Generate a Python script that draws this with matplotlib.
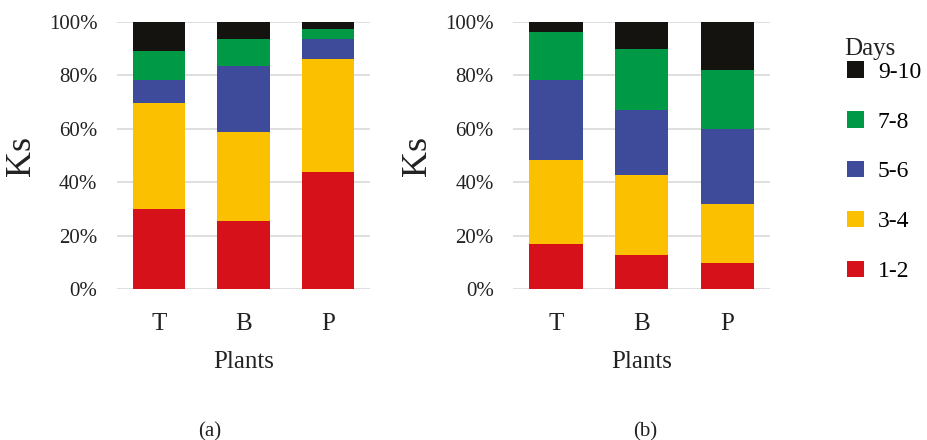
import numpy as np
import matplotlib
matplotlib.use("Agg")
import matplotlib.pyplot as plt
from matplotlib.ticker import PercentFormatter

plt.rcParams['font.family'] = ['Liberation Serif', 'DejaVu Serif']

# data (shares, %)
plants = ['T', 'B', 'P']
days = ['1-2', '3-4', '5-6', '7-8', '9-10']
colors = ['#D7111A', '#FBC000', '#3E4A9A', '#009A46', '#15130F']

# panel (a)
a_12 = [30.1, 25.4, 43.8]
a_34 = [39.7, 33.4, 42.5]
a_56 = [8.5, 24.9, 7.5]
a_78 = [10.8, 9.8, 3.7]
a_910 = [10.9, 6.5, 2.5]

# panel (b)
b_12 = [16.7, 12.8, 9.8]
b_34 = [31.7, 30.1, 22.2]
b_56 = [30.0, 24.3, 28.0]
b_78 = [17.8, 22.8, 22.0]
b_910 = [3.8, 10.0, 18.0]

fig = plt.figure(figsize=(9.28, 4.4), dpi=100)
ax_a = fig.add_axes([0.126, 0.343, 0.273, 0.607])
ax_b = fig.add_axes([0.553, 0.343, 0.277, 0.607])


def draw(ax, series):
    x = np.arange(len(plants))
    bottom = np.zeros(len(plants))
    bars = []
    for vals, lab, col in zip(series, days, colors):
        vals = np.array(vals)
        b = ax.bar(x, vals, 0.62, bottom=bottom, color=col, label=lab, zorder=3)
        bars.append(b)
        bottom += vals
    ax.set_xlim(-0.5, 2.5)
    ax.set_ylim(0, 100)
    ax.set_yticks([0, 20, 40, 60, 80, 100])
    ax.yaxis.set_major_formatter(PercentFormatter(decimals=0))
    ax.set_xticks(x)
    ax.set_xticklabels(plants)
    ax.grid(axis='y', color='#D9D9D9', linewidth=1.2, zorder=0)
    for s in ax.spines.values():
        s.set_visible(False)
    ax.tick_params(axis='y', length=0, pad=14, labelsize=15, colors='#222222')
    ax.tick_params(axis='x', length=0, pad=17, labelsize=18, colors='#222222')
    ax.set_xlabel('Plants', fontsize=18, labelpad=12, color='#222222')
    ax.set_ylabel('Ks', fontsize=26, labelpad=8, color='#222222')
    return bars


draw(ax_a, [a_12, a_34, a_56, a_78, a_910])
bars = draw(ax_b, [b_12, b_34, b_56, b_78, b_910])

fig.text(0.910, 0.889, 'Days', ha='left', va='center', fontsize=18, color='#222222')
fig.legend(handles=bars[::-1], labels=days[::-1],
           loc='upper left', bbox_to_anchor=(0.913, 0.861),
           frameon=False, fontsize=17,
           handlelength=0.7, handleheight=0.7, handletextpad=0.6,
           labelspacing=1.2, borderaxespad=0, borderpad=0)

fig.text(0.226, 0.018, '(a)', ha='center', va='center', fontsize=15, color='#222222')
fig.text(0.695, 0.018, '(b)', ha='center', va='center', fontsize=15, color='#222222')

fig.savefig('out.png', dpi=100)
